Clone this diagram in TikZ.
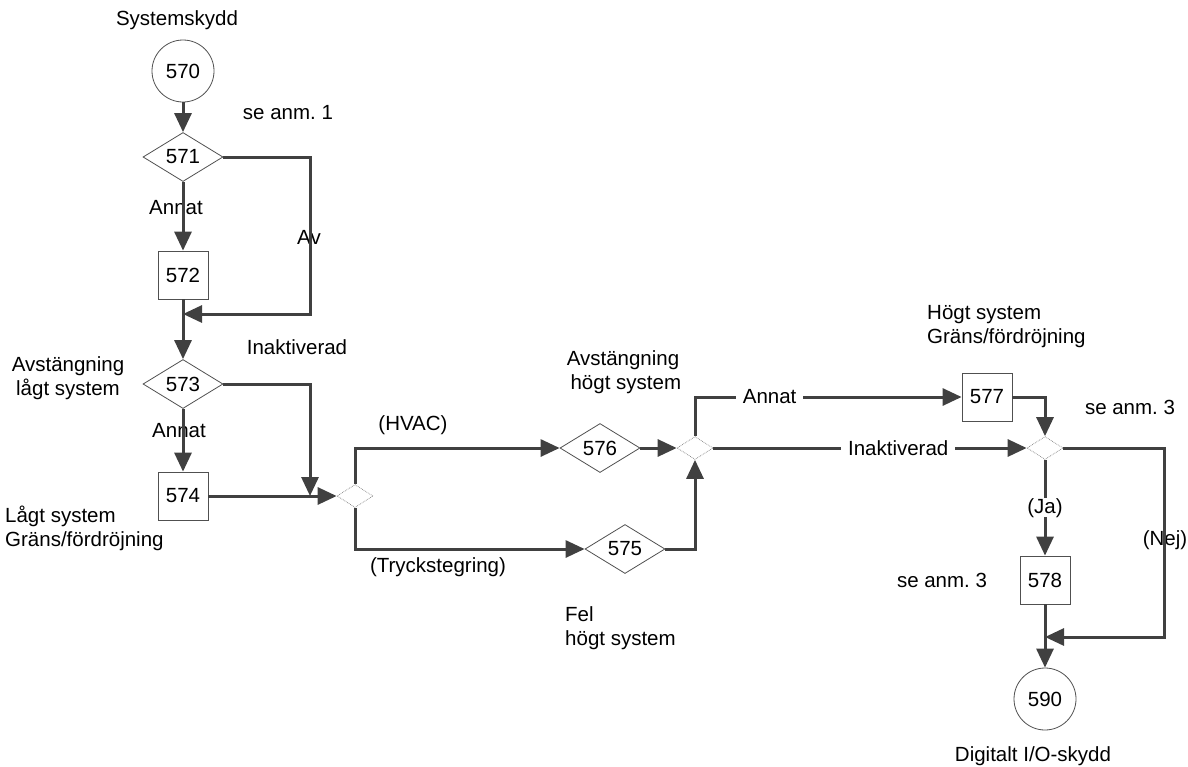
\documentclass[tikz,border=0pt]{standalone}
\usepackage{fontspec}
\setmainfont{Liberation Sans}
\usetikzlibrary{shapes.geometric,arrows.meta}
\definecolor{lin}{HTML}{404040}
\definecolor{brd}{HTML}{505050}
\tikzset{
  conn/.style={draw=lin,line width=3pt,-{Triangle[length=19pt,width=17pt]}},
  circ/.style={circle,draw=brd,line width=0.8pt,minimum size=62pt,inner sep=0pt},
  dia/.style={diamond,draw=brd,line width=0.8pt,minimum width=80pt,minimum height=49pt,inner sep=0pt,shape aspect=1.6},
  box/.style={rectangle,draw=brd,line width=0.8pt,minimum width=50pt,minimum height=48pt,inner sep=0pt},
  junc/.style={diamond,draw=gray,densely dotted,line width=0.7pt,minimum width=36pt,minimum height=23pt,inner sep=0pt,shape aspect=1.6},
  lbl/.style={inner sep=1pt,align=center},
  lbll/.style={inner sep=1pt,align=left,anchor=west},
  wlbl/.style={fill=white,inner sep=0pt,inner xsep=7pt,minimum height=16pt}
}
\begin{document}
\frenchspacing
\begin{tikzpicture}[x=1pt,y=-1pt,font=\fontsize{20.5}{24}\selectfont]
\useasboundingbox (0,0) rectangle (1188,766);
% nodes
\node[circ] (c570) at (183,71) {570};
\node[dia] (d571) at (183,157) {571};
\node[box] (b572) at (183,275) {572};
\node[dia] (d573) at (183,384) {573};
\node[box] (b574) at (183,496) {574};
\node[junc] (J1) at (355,496) {};
\node[dia] (d576) at (600,448) {576};
\node[junc] (J2) at (695,448) {};
\node[dia] (d575) at (625,549) {575};
\node[box] (b577) at (987,397) {577};
\node[junc] (J3) at (1045,448) {};
\node[box] (b578) at (1045,580) {578};
\node[circ] (c590) at (1045,699) {590};
% coordinates
\coordinate (m1) at (183,314);
\coordinate (m2) at (310,496);
\coordinate (m3) at (1045,637);
% labels under lines
\node[lbl] (tSys) at (177,20) {Systemskydd};
\node[lbl] (tAnm1) at (288,113) {se anm. 1};
\node[lbl] (tAnnat1) at (176,208) {Annat};
\node[lbl] (tAv) at (309,237) {Av};
\node[lbl] (tInakt1) at (297,347) {Inaktiverad};
\node[lbl] (tAvL) at (68,378) {Avstängning\\lågt system};
\node[lbl] (tAnnat2) at (179,431) {Annat};
\node[lbll] (tLag) at (4,528) {Lågt system\\Gräns/fördröjning};
\node[lbl] (tHVAC) at (413,425) {(HVAC)};
\node[lbl] (tTryck) at (438,567) {(Tryckstegring)};
\node[lbl] (tAvH) at (623,372) {Avstängning\\\ högt system};
\node[lbll] (tFel) at (564,628) {Fel\\högt system};
\node[lbll] (tHogt) at (926,327) {Högt system\\Gräns/fördröjning};
\node[lbl] (tAnm3a) at (1130,407) {se anm. 3};
\node[lbl] (tNej) at (1165,540) {(Nej)};
\node[lbl] (tAnm3b) at (942,580) {se anm. 3};
\node[lbl] (tDig) at (1033,756) {Digitalt I/O-skydd};
% connectors
\draw[conn] (c570) -- (d571);
\draw[conn] (d571) -- (b572);
\draw[conn] (d571.east) -| (310,314) -- (m1);
\draw[conn] (b572) -- (d573);
\draw[conn] (d573) -- (b574);
\draw[conn] (d573.east) -| (m2);
\draw[conn] (b574) -- (J1);
\draw[conn] (J1.north) |- (d576.west);
\draw[conn] (J1.south) |- (d575.west);
\draw[conn] (d576) -- (J2);
\draw[conn] (d575.east) -| (J2.south);
\draw[conn] (J2.north) |- node[wlbl,pos=0.64] {Annat} (b577.west);
\draw[conn] (J2.east) -- node[wlbl,pos=0.59] {Inaktiverad} (J3.west);
\draw[conn] (b577.east) -| (J3.north);
\draw[conn] (J3.south) -- node[wlbl,pos=0.5] {(Ja)} (b578.north);
\draw[conn] (J3.east) -| (1164,637) -- (m3);
\draw[conn] (b578) -- (c590);
\end{tikzpicture}
\end{document}
